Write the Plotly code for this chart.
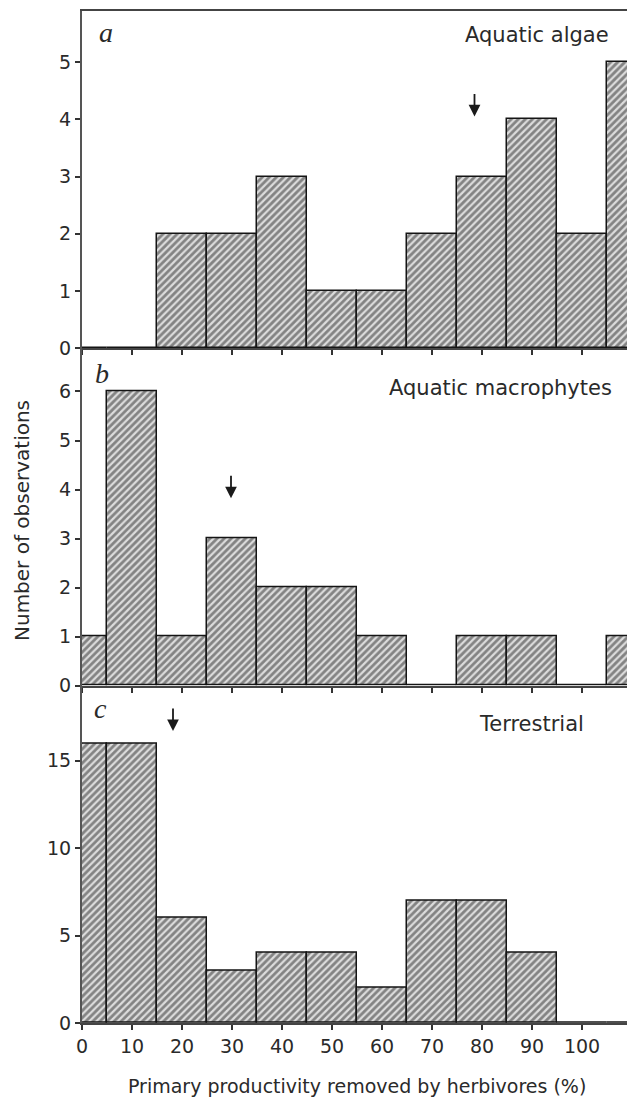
import plotly.graph_objects as go
from plotly.subplots import make_subplots

# ---- data ----
bin_centers = [0, 10, 20, 30, 40, 50, 60, 70, 80, 90, 100, 110]
algae = [0, 0, 2, 2, 3, 1, 1, 2, 3, 4, 2, 5]
macrophytes = [1, 6, 1, 3, 2, 2, 1, 0, 1, 1, 0, 1]
terrestrial = [16, 16, 6, 3, 4, 4, 2, 7, 7, 4, 0, 0]
panel_titles = ["Aquatic algae", "Aquatic macrophytes", "Terrestrial"]
panel_letters = ["a", "b", "c"]
mean_x = [78.5, 29.8, 18.2]          # arrow positions (means)
arrow_tip_y = [4.05, 3.82, 16.7]     # arrow tips
x_ticks = [0, 10, 20, 30, 40, 50, 60, 70, 80, 90, 100]
y_ticks = [[0, 1, 2, 3, 4, 5], [0, 1, 2, 3, 4, 5, 6], [0, 5, 10, 15]]
y_ranges = [[0, 5.89], [0, 6.88], [0, 19.3]]
x_range = [0, 109]

W, H = 627, 1100
ML, MR, MT, MB = 82, 0, 11, 77
PW, PH = W - ML - MR, H - MT - MB


def px(xp):
    return (xp - ML) / PW


def py(yp):
    return (H - MB - yp) / PH


fig = make_subplots(rows=3, cols=1, shared_xaxes=True, vertical_spacing=0)

series = [algae, macrophytes, terrestrial]
for i, vals in enumerate(series):
    fig.add_trace(
        go.Bar(
            x=bin_centers,
            y=vals,
            width=10,
            marker=dict(
                color="#dcdcdc",
                line=dict(color="#151515", width=1.5),
                pattern=dict(shape="/", fgcolor="#2a2a2a", bgcolor="#dcdcdc",
                             size=5, solidity=0.55),
            ),
            showlegend=False,
        ),
        row=i + 1, col=1,
    )

tickfont = dict(family="DejaVu Sans", size=19, color="#2a2a2a")
for i in range(3):
    fig.update_yaxes(
        range=y_ranges[i], tickvals=y_ticks[i], ticks="outside", ticklen=5,
        tickwidth=1.5, tickcolor="#333", showline=True, linecolor="#555",
        linewidth=2, showgrid=False, zeroline=False, tickfont=tickfont,
        row=i + 1, col=1,
    )
    fig.update_xaxes(
        range=x_range, tickvals=x_ticks, ticks="outside", ticklen=5,
        tickwidth=1.5, tickcolor="#333", showline=True, linecolor="#444",
        linewidth=2, showgrid=False, zeroline=False, tickfont=tickfont,
        showticklabels=(i == 2), row=i + 1, col=1,
    )
fig.update_xaxes(mirror=True, row=1, col=1)

# panel positions (pixel tops of each panel)
panel_tops = [11, 350, 687]
title_right = [611, 614, 586]
title_dy = [24, 38, 37]
letter_dy = [22, 23, 21]
letter_x = [106, 102, 100]

annotations = []
for i in range(3):
    top = panel_tops[i]
    annotations.append(dict(
        text=panel_titles[i], xref="paper", yref="paper",
        x=px(title_right[i]), y=py(top + title_dy[i]),
        xanchor="right", yanchor="middle", showarrow=False,
        font=dict(family="DejaVu Sans", size=21, color="#2a2a2a"),
    ))
    annotations.append(dict(
        text="<i>" + panel_letters[i] + "</i>", xref="paper", yref="paper",
        x=px(letter_x[i]), y=py(top + letter_dy[i]),
        xanchor="center", yanchor="middle", showarrow=False,
        font=dict(family="Liberation Serif", size=28, color="#2a2a2a"),
    ))
    axn = "" if i == 0 else str(i + 1)
    annotations.append(dict(
        text="", xref="x" + axn, yref="y" + axn,
        x=mean_x[i], y=arrow_tip_y[i], ax=0, ay=-24,
        showarrow=True, arrowhead=2, arrowsize=1.3, arrowwidth=1.8,
        arrowcolor="#1a1a1a",
    ))

annotations.append(dict(
    text="Number of observations", xref="paper", yref="paper",
    x=px(22), y=py(521), textangle=-90, xanchor="center", yanchor="middle",
    showarrow=False, font=dict(family="DejaVu Sans", size=20, color="#2a2a2a"),
))
annotations.append(dict(
    text="Primary productivity removed by herbivores (%)", xref="paper",
    yref="paper", x=px(357), y=py(1086), xanchor="center", yanchor="middle",
    showarrow=False, font=dict(family="DejaVu Sans", size=19, color="#2a2a2a"),
))

fig.update_layout(
    width=W, height=H,
    margin=dict(l=ML, r=MR, t=MT, b=MB),
    paper_bgcolor="white", plot_bgcolor="white",
    bargap=0, annotations=annotations,
)

fig.write_html("out.html")
